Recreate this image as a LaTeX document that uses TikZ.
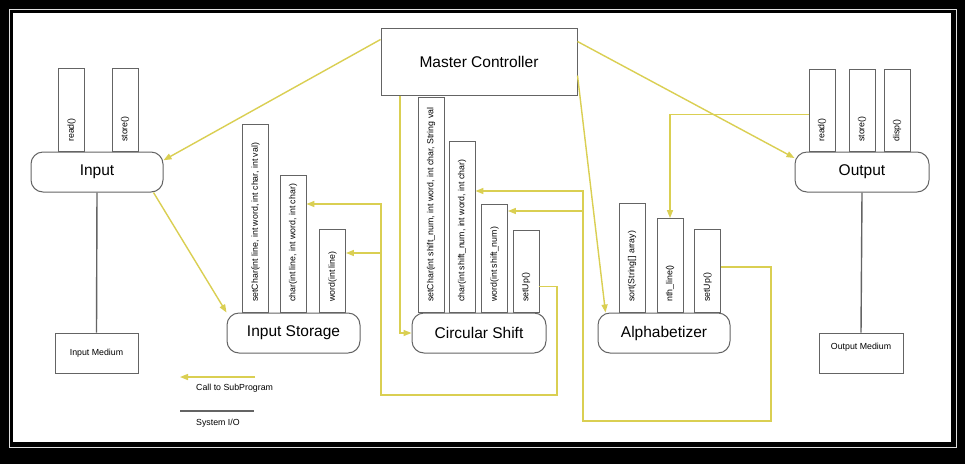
\documentclass[tikz,border=0pt]{standalone}
\usepackage{fontspec}
\setmainfont{Liberation Sans}
\usepackage{tikz}
\definecolor{callline}{RGB}{218,207,82}
\definecolor{boxline}{RGB}{100,100,100}
\usetikzlibrary{arrows.meta}
\tikzset{
  module/.style={draw=boxline, line width=1pt, fill=white, rounded corners=12pt, minimum height=40pt, font=\fontsize{15.5}{18}\selectfont},
  method/.style={draw=boxline, line width=0.9pt, fill=white, minimum width=26pt, anchor=south, inner sep=0pt},
  mname/.style={rotate=90, anchor=west, inner sep=0pt, font=\fontsize{8.8}{10}\selectfont},
  medium/.style={draw=boxline, line width=0.9pt, minimum width=83pt, minimum height=40pt, font=\fontsize{8.8}{10}\selectfont},
  keytext/.style={anchor=west, inner sep=0pt, font=\fontsize{8.8}{10}\selectfont},
  call/.style={->, callline, line width=1.4pt},
  sysio/.style={-, boxline, line width=1.4pt},
}

\begin{document}
\begin{tikzpicture}[x=1pt, y=-1pt, >={Triangle[length=8pt,width=6pt]}]
\fill[black] (0,0) rectangle (965,464);
\draw[white!75!gray, line width=0.8pt] (9.5,9.5) rectangle (956,447);
\fill[white] (13,13) rectangle (951,442);
\useasboundingbox (0,0) rectangle (965,464);

\node[draw=boxline, line width=1pt, fill=white, minimum width=196pt, minimum height=67pt, font=\fontsize{15.5}{18}\selectfont] (mc) at (479,61.5) {Master Controller};

\node[method, minimum height=83pt] (inRead) at (71.5,152) {};
\node[method, minimum height=83pt] (inStore) at (125,152) {};
\node[mname] (inReadName) at ([yshift=10pt]inRead.south) {read()};
\node[mname] (inStoreName) at ([yshift=10pt]inStore.south) {store()};

\node[method, minimum height=188pt] (isSet) at (255.5,313) {};
\node[method, minimum height=137pt] (isChar) at (293,313) {};
\node[method, minimum height=83pt] (isWord) at (332.5,313) {};
\node[mname] (isSetName) at ([yshift=11pt]isSet.south) {setChar(int line, int word, int char, int val)};
\node[mname] (isCharName) at ([yshift=11pt]isChar.south) {char(int line, int word, int char)};
\node[mname] (isWordName) at ([yshift=11pt]isWord.south) {word(int line)};

\node[method, minimum height=215pt] (csSet) at (431,313) {};
\node[method, minimum height=171pt] (csChar) at (462,313) {};
\node[method, minimum height=108pt] (csWord) at (494.5,313) {};
\node[method, minimum height=82pt] (csUp) at (526,313) {};
\node[mname] (csSetName) at ([yshift=11pt]csSet.south) {setChar(int shift\_num, int word, int char, String val};
\node[mname] (csCharName) at ([yshift=11pt]csChar.south) {char(int shift\_num, int word, int char)};
\node[mname] (csWordName) at ([yshift=11pt]csWord.south) {word(int shift\_num)};
\node[mname] (csUpName) at ([yshift=11pt]csUp.south) {setUp()};

\node[method, minimum height=109pt] (alSort) at (632,313) {};
\node[method, minimum height=94pt] (alNth) at (670,313) {};
\node[method, minimum height=83pt] (alUp) at (707.5,313) {};
\node[mname] (alSortName) at ([yshift=11pt]alSort.south) {sort(String[] array)};
\node[mname] (alNthName) at ([yshift=11pt]alNth.south) {nth\_line()};
\node[mname] (alUpName) at ([yshift=11pt]alUp.south) {setUp()};

\node[method, minimum height=82pt] (outRead) at (822,152) {};
\node[method, minimum height=82pt] (outStore) at (862,152) {};
\node[method, minimum height=82pt] (outDisp) at (897,152) {};
\node[mname] (outReadName) at ([yshift=10pt]outRead.south) {read()};
\node[mname] (outStoreName) at ([yshift=10pt]outStore.south) {store()};
\node[mname] (outDispName) at ([yshift=10pt]outDisp.south) {disp()};

\node[module, minimum width=132pt] (in) at (97,172) {Input};
\node[module, minimum width=133pt] (is) at (293.5,333) {Input Storage};
\node[module, minimum width=134pt] (cs) at (479,333) {Circular Shift};
\node[module, minimum width=132pt] (al) at (664,333) {Alphabetizer};
\node[module, minimum width=134pt] (out) at (862,172) {Output};

\node[medium] (inMed) at (96.5,353) {Input Medium};
\node[medium, minimum width=84pt, text depth=14pt] (outMed) at (861,353) {Output Medium};

\coordinate (alLoopR) at (771,421);
\coordinate (alLoopL) at (583,421);
\coordinate (alJoin) at (583,211);
\coordinate (alBus) at (583,191);
\coordinate (csLoopR) at (557,395);
\coordinate (csLoopL) at (381,395);
\coordinate (csJoin) at (381,253);
\coordinate (csBus) at (381,204);

\draw[call] ([yshift=22pt]mc.west) -- (in.10);
\draw[call] ([yshift=20pt]mc.east) -- ([yshift=14pt]out.west);
\draw[call] ([xshift=-10pt]in.south east) -- (is.north west);
\draw[call] ([xshift=-79pt]mc.south) |- (cs.west);
\draw[call] ([yshift=-14pt]mc.east) -- ([xshift=8pt]al.north west);
\draw[call] ([yshift=-4pt]outRead.west) -| (alNth.north);
\draw[call] ([yshift=4pt]alUp.east) -| (alLoopR) -- (alLoopL) -- (alJoin) -- (alJoin -| csWord.east);
\draw[call] (alJoin) -- (alBus) -- (alBus -| csChar.east);
\draw[call] ([yshift=-15pt]csUp.east) -| (csLoopR) -- (csLoopL) -- (csJoin) -- (csJoin -| isWord.east);
\draw[call] (csJoin) -- (csBus) -- (csBus -| isChar.east);

\draw[sysio] (in.south) -- (inMed.north);
\draw[sysio] (out.south) -- (outMed.north);

\coordinate (keyCallA) at (255,377);
\coordinate (keyCallB) at (180,377);
\coordinate (keyIoA) at (180,411);
\coordinate (keyIoB) at (254,411);
\draw[call] (keyCallA) -- (keyCallB);
\node[keytext] (keyCall) at (196,388) {Call to SubProgram};
\draw[sysio] (keyIoA) -- (keyIoB);
\node[keytext] (keyIo) at (196,423) {System I/O};
\end{tikzpicture}
\end{document}
